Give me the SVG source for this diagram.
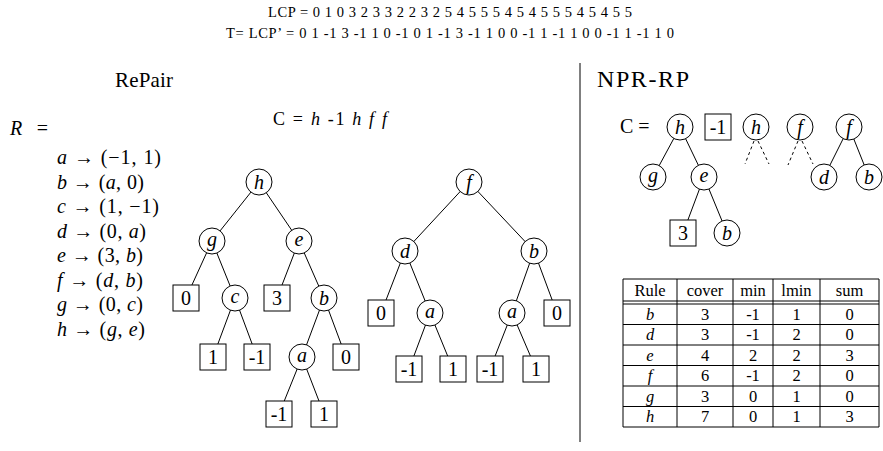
<svg xmlns="http://www.w3.org/2000/svg" width="883" height="451" viewBox="0 0 883 451">
<style>
text { font-family: "Liberation Serif", "DejaVu Serif", serif; fill: #000; }
.it { font-style: italic; }
.node circle, .node rect { fill: #fff; stroke: #000; stroke-width: 1; }
.lbl { font-size: 20px; text-anchor: middle; }
.edges line { stroke: #000; stroke-width: 1; }
.edges .dash { stroke-dasharray: 3 3; }
.tbl line { stroke: #000; stroke-width: 1; }
.tc { font-size: 16.5px; text-anchor: middle; }
.rule { font-size: 20px; }
</style>
<rect width="883" height="451" fill="#fff"/>

<!-- header lines -->
<text x="268" y="17" font-size="14.5" textLength="364" lengthAdjust="spacing">LCP = 0 1 0 3 2 3 3 2 2 3 2 5 4 5 5 5 4 5 4 5 5 5 4 5 4 5 5</text>
<text x="226" y="38" font-size="14.5" textLength="448" lengthAdjust="spacing">T= LCP’ = 0 1 -1 3 -1 1 0 -1 0 1 -1 3 -1 1 0 0 -1 1 -1 1 0 0 -1 1 -1 1 0</text>

<text x="115" y="87" font-size="21" textLength="58" lengthAdjust="spacing">RePair</text>
<text x="597" y="87" font-size="24" textLength="92" lengthAdjust="spacing">NPR-RP</text>
<text x="10" y="135" font-size="20" textLength="38" lengthAdjust="spacing"><tspan class="it">R</tspan> =</text>
<text x="273" y="125" font-size="18" textLength="114" lengthAdjust="spacing">C = <tspan class="it">h</tspan> -1 <tspan class="it">h f f</tspan></text>

<!-- rules -->
<g id="rules" class="rule">
<text x="57" y="164" textLength="104" lengthAdjust="spacing"><tspan class="it">a</tspan> → (−1, 1)</text>
<text x="57" y="188.5" textLength="87" lengthAdjust="spacing"><tspan class="it">b</tspan> → (<tspan class="it">a</tspan>, 0)</text>
<text x="57" y="213" textLength="102" lengthAdjust="spacing"><tspan class="it">c</tspan> → (1, −1)</text>
<text x="57" y="237.5" textLength="89" lengthAdjust="spacing"><tspan class="it">d</tspan> → (0, <tspan class="it">a</tspan>)</text>
<text x="57" y="262" textLength="86" lengthAdjust="spacing"><tspan class="it">e</tspan> → (3, <tspan class="it">b</tspan>)</text>
<text x="57" y="286.5" textLength="86" lengthAdjust="spacing"><tspan class="it">f</tspan> → (<tspan class="it">d</tspan>, <tspan class="it">b</tspan>)</text>
<text x="57" y="311" textLength="86" lengthAdjust="spacing"><tspan class="it">g</tspan> → (0, <tspan class="it">c</tspan>)</text>
<text x="57" y="335.5" textLength="88" lengthAdjust="spacing"><tspan class="it">h</tspan> → (<tspan class="it">g</tspan>, <tspan class="it">e</tspan>)</text>
</g>

<!-- divider -->
<line x1="580" y1="63" x2="580" y2="442" stroke="#000" stroke-width="1"/>

<!-- connectors -->
<g id="connectors" class="edges">
<!-- tree 1 -->
<line x1="259" y1="182" x2="212" y2="241"/>
<line x1="259" y1="182" x2="299" y2="241"/>
<line x1="212" y1="241" x2="186" y2="298"/>
<line x1="212" y1="241" x2="235" y2="298"/>
<line x1="299" y1="241" x2="277" y2="298"/>
<line x1="299" y1="241" x2="324" y2="298"/>
<line x1="235" y1="298" x2="213" y2="357"/>
<line x1="235" y1="298" x2="257" y2="357"/>
<line x1="324" y1="298" x2="302" y2="357"/>
<line x1="324" y1="298" x2="346" y2="357"/>
<line x1="302" y1="357" x2="279" y2="414"/>
<line x1="302" y1="357" x2="324" y2="414"/>
<!-- tree 2 -->
<line x1="469" y1="182" x2="405" y2="251"/>
<line x1="469" y1="182" x2="534" y2="251"/>
<line x1="405" y1="251" x2="381" y2="313"/>
<line x1="405" y1="251" x2="430" y2="313"/>
<line x1="534" y1="251" x2="512" y2="313"/>
<line x1="534" y1="251" x2="557" y2="313"/>
<line x1="430" y1="313" x2="409" y2="369"/>
<line x1="430" y1="313" x2="453" y2="369"/>
<line x1="512" y1="313" x2="490" y2="369"/>
<line x1="512" y1="313" x2="536" y2="369"/>
<!-- NPR-RP -->
<line x1="680" y1="127" x2="653" y2="177"/>
<line x1="680" y1="127" x2="704" y2="177"/>
<line x1="704" y1="177" x2="683" y2="233"/>
<line x1="704" y1="177" x2="727" y2="233"/>
<line x1="849" y1="127" x2="824" y2="177"/>
<line x1="849" y1="127" x2="869" y2="177"/>
<line class="dash" x1="754" y1="141" x2="745" y2="164"/>
<line class="dash" x1="758" y1="141" x2="769" y2="164"/>
<line class="dash" x1="798" y1="141" x2="788" y2="165"/>
<line class="dash" x1="802" y1="141" x2="813" y2="164"/>
</g>

<!-- tree 1 nodes -->
<g id="t1-h" class="node"><circle cx="259" cy="182" r="13"/><text class="lbl it" x="259" y="189">h</text></g>
<g id="t1-g" class="node"><circle cx="212" cy="241" r="13"/><text class="lbl it" x="212" y="246">g</text></g>
<g id="t1-e" class="node"><circle cx="299" cy="241" r="13"/><text class="lbl it" x="299" y="246">e</text></g>
<g id="t1-0a" class="node"><rect x="173" y="285" width="26" height="26"/><text class="lbl" x="186" y="305">0</text></g>
<g id="t1-c" class="node"><circle cx="235" cy="298" r="13"/><text class="lbl it" x="235" y="303">c</text></g>
<g id="t1-3" class="node"><rect x="264" y="285" width="26" height="26"/><text class="lbl" x="277" y="305">3</text></g>
<g id="t1-b" class="node"><circle cx="324" cy="298" r="13"/><text class="lbl it" x="324" y="305">b</text></g>
<g id="t1-1a" class="node"><rect x="200" y="344" width="26" height="26"/><text class="lbl" x="213" y="364">1</text></g>
<g id="t1-m1a" class="node"><rect x="244" y="344" width="26" height="26"/><text class="lbl" x="257" y="364">-1</text></g>
<g id="t1-a" class="node"><circle cx="302" cy="357" r="13"/><text class="lbl it" x="302" y="362">a</text></g>
<g id="t1-0b" class="node"><rect x="333" y="344" width="26" height="26"/><text class="lbl" x="346" y="364">0</text></g>
<g id="t1-m1b" class="node"><rect x="266" y="401" width="26" height="26"/><text class="lbl" x="279" y="421">-1</text></g>
<g id="t1-1b" class="node"><rect x="311" y="401" width="26" height="26"/><text class="lbl" x="324" y="421">1</text></g>

<!-- tree 2 nodes -->
<g id="t2-f" class="node"><circle cx="469" cy="182" r="13"/><text class="lbl it" x="469" y="189">f</text></g>
<g id="t2-d" class="node"><circle cx="405" cy="251" r="13"/><text class="lbl it" x="405" y="258">d</text></g>
<g id="t2-b" class="node"><circle cx="534" cy="251" r="13"/><text class="lbl it" x="534" y="258">b</text></g>
<g id="t2-0a" class="node"><rect x="368" y="300" width="26" height="26"/><text class="lbl" x="381" y="320">0</text></g>
<g id="t2-a1" class="node"><circle cx="430" cy="313" r="13"/><text class="lbl it" x="430" y="318">a</text></g>
<g id="t2-a2" class="node"><circle cx="512" cy="313" r="13"/><text class="lbl it" x="512" y="318">a</text></g>
<g id="t2-0b" class="node"><rect x="544" y="300" width="26" height="26"/><text class="lbl" x="557" y="320">0</text></g>
<g id="t2-m1a" class="node"><rect x="396" y="356" width="26" height="26"/><text class="lbl" x="409" y="376">-1</text></g>
<g id="t2-1a" class="node"><rect x="440" y="356" width="26" height="26"/><text class="lbl" x="453" y="376">1</text></g>
<g id="t2-m1b" class="node"><rect x="477" y="356" width="26" height="26"/><text class="lbl" x="490" y="376">-1</text></g>
<g id="t2-1b" class="node"><rect x="523" y="356" width="26" height="26"/><text class="lbl" x="536" y="376">1</text></g>

<!-- NPR-RP -->
<text x="620" y="133" font-size="20">C =</text>
<g id="n-h1" class="node"><circle cx="680" cy="127" r="13"/><text class="lbl it" x="680" y="134">h</text></g>
<g id="n-m1" class="node"><rect x="705" y="114" width="26" height="26"/><text class="lbl" x="718" y="134">-1</text></g>
<g id="n-h2" class="node"><circle cx="756" cy="127" r="13"/><text class="lbl it" x="756" y="134">h</text></g>
<g id="n-f1" class="node"><circle cx="800" cy="127" r="13"/><text class="lbl it" x="800" y="134">f</text></g>
<g id="n-f2" class="node"><circle cx="849" cy="127" r="13"/><text class="lbl it" x="849" y="134">f</text></g>
<g id="n-g" class="node"><circle cx="653" cy="177" r="13"/><text class="lbl it" x="653" y="182">g</text></g>
<g id="n-e" class="node"><circle cx="704" cy="177" r="13"/><text class="lbl it" x="704" y="182">e</text></g>
<g id="n-d" class="node"><circle cx="824" cy="177" r="13"/><text class="lbl it" x="824" y="184">d</text></g>
<g id="n-b" class="node"><circle cx="869" cy="177" r="13"/><text class="lbl it" x="869" y="184">b</text></g>
<g id="n-3" class="node"><rect x="670" y="220" width="26" height="26"/><text class="lbl" x="683" y="240">3</text></g>
<g id="n-b2" class="node"><circle cx="727" cy="233" r="13"/><text class="lbl it" x="727" y="240">b</text></g>

<!-- table -->
<g id="table" class="tbl">
<line x1="623" y1="279" x2="879" y2="279"/>
<line x1="623" y1="301" x2="879" y2="301"/>
<line x1="623" y1="304" x2="879" y2="304"/>
<line x1="623" y1="324.5" x2="879" y2="324.5"/>
<line x1="623" y1="345" x2="879" y2="345"/>
<line x1="623" y1="365.5" x2="879" y2="365.5"/>
<line x1="623" y1="386" x2="879" y2="386"/>
<line x1="623" y1="406.5" x2="879" y2="406.5"/>
<line x1="623" y1="427" x2="879" y2="427"/>
<line x1="623" y1="279" x2="623" y2="427"/>
<line x1="677" y1="279" x2="677" y2="427"/>
<line x1="733" y1="279" x2="733" y2="427"/>
<line x1="773" y1="279" x2="773" y2="427"/>
<line x1="820" y1="279" x2="820" y2="427"/>
<line x1="879" y1="279" x2="879" y2="427"/>
<text class="tc" x="650" y="295.5">Rule</text>
<text class="tc" x="705" y="295.5">cover</text>
<text class="tc" x="753" y="295.5">min</text>
<text class="tc" x="796.5" y="295.5">lmin</text>
<text class="tc" x="849.5" y="295.5">sum</text>
<text class="tc it" x="650" y="319.5">b</text><text class="tc" x="705" y="319.5">3</text><text class="tc" x="753" y="319.5">-1</text><text class="tc" x="796.5" y="319.5">1</text><text class="tc" x="849.5" y="319.5">0</text>
<text class="tc it" x="650" y="340">d</text><text class="tc" x="705" y="340">3</text><text class="tc" x="753" y="340">-1</text><text class="tc" x="796.5" y="340">2</text><text class="tc" x="849.5" y="340">0</text>
<text class="tc it" x="650" y="360.5">e</text><text class="tc" x="705" y="360.5">4</text><text class="tc" x="753" y="360.5">2</text><text class="tc" x="796.5" y="360.5">2</text><text class="tc" x="849.5" y="360.5">3</text>
<text class="tc it" x="650" y="381">f</text><text class="tc" x="705" y="381">6</text><text class="tc" x="753" y="381">-1</text><text class="tc" x="796.5" y="381">2</text><text class="tc" x="849.5" y="381">0</text>
<text class="tc it" x="650" y="401.5">g</text><text class="tc" x="705" y="401.5">3</text><text class="tc" x="753" y="401.5">0</text><text class="tc" x="796.5" y="401.5">1</text><text class="tc" x="849.5" y="401.5">0</text>
<text class="tc it" x="650" y="422">h</text><text class="tc" x="705" y="422">7</text><text class="tc" x="753" y="422">0</text><text class="tc" x="796.5" y="422">1</text><text class="tc" x="849.5" y="422">3</text>
</g>
</svg>
